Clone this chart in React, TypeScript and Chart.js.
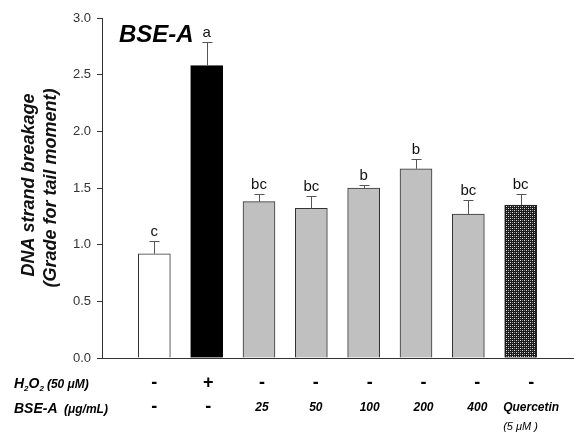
import React, { useEffect, useRef } from 'react';
import { Chart, registerables } from 'chart.js';

Chart.register(...registerables);

const FF = '"Liberation Sans", Arial, sans-serif';

const categories = ['Control', 'H2O2', 'BSE-A 25', 'BSE-A 50', 'BSE-A 100', 'BSE-A 200', 'BSE-A 400', 'Quercetin'];
const means = [0.92, 2.58, 1.38, 1.32, 1.5, 1.67, 1.27, 1.35];
const sems = [0.11, 0.21, 0.07, 0.105, 0.025, 0.09, 0.125, 0.1];
const letters = ['c', 'a', 'bc', 'bc', 'b', 'b', 'bc', 'bc'];
const h2o2Row = ['-', '+', '-', '-', '-', '-', '-', '-'];
const doseRow = ['-', '-', '25', '50', '100', '200', '400', 'Quercetin'];
const yTickValues = [0, 0.5, 1.0, 1.5, 2.0, 2.5, 3.0];

function makePattern(): CanvasPattern | string {
  const c = document.createElement('canvas');
  c.width = 4;
  c.height = 4;
  const g = c.getContext('2d');
  if (!g) return '#555';
  g.fillStyle = '#1a1a1a';
  g.fillRect(0, 0, 4, 4);
  g.fillStyle = '#e0e0e0';
  g.fillRect(0, 0, 1, 1);
  g.fillRect(2, 2, 1, 1);
  g.fillStyle = '#8a8a8a';
  g.fillRect(2, 0, 1, 1);
  g.fillRect(0, 2, 1, 1);
  const p = g.createPattern(c, 'repeat');
  return p || '#555';
}

const overlayPlugin = {
  id: 'overlay',
  afterDatasetsDraw(chart: any) {
    const ctx = chart.ctx as CanvasRenderingContext2D;
    const meta = chart.getDatasetMeta(0);
    const ys = chart.scales.y;
    ctx.save();
    means.forEach((m, i) => {
      const el = meta.data[i];
      const x = Math.round(el.x) + 0.5;
      const yb = ys.getPixelForValue(m);
      const yt = Math.round(ys.getPixelForValue(m + sems[i])) + 0.5;
      ctx.strokeStyle = '#555';
      ctx.lineWidth = 1;
      ctx.beginPath();
      ctx.moveTo(x, yb);
      ctx.lineTo(x, yt);
      ctx.moveTo(x - 5, yt);
      ctx.lineTo(x + 5, yt);
      ctx.stroke();
      ctx.fillStyle = '#111';
      ctx.font = `15px ${FF}`;
      ctx.textAlign = 'center';
      ctx.textBaseline = 'alphabetic';
      ctx.fillText(letters[i], el.x, yt - 6);

      const lx = el.x + i * 1.5;
      ctx.fillStyle = '#000';
      ctx.textBaseline = 'middle';
      ctx.font = `bold 18px ${FF}`;
      ctx.fillText(h2o2Row[i], lx, 383);
      const d = doseRow[i];
      if (d === '-') {
        ctx.font = `bold 18px ${FF}`;
        ctx.fillText(d, lx, 407);
      } else {
        ctx.font = `italic bold 12px ${FF}`;
        ctx.fillText(d, lx, 408);
        if (d === 'Quercetin') {
          const w = ctx.measureText(d).width;
          ctx.textAlign = 'left';
          ctx.font = `italic 11px ${FF}`;
          ctx.fillText('(5 \u03bcM )', lx - w / 2, 427);
        }
      }
    });

    // Row labels
    ctx.fillStyle = '#000';
    ctx.textAlign = 'left';
    ctx.textBaseline = 'alphabetic';
    let x = 14;
    const base1 = 388;
    const seg = (t: string, font: string, dy: number) => {
      ctx.font = font;
      ctx.fillText(t, x, base1 + dy);
      x += ctx.measureText(t).width;
    };
    seg('H', `italic bold 14px ${FF}`, 0);
    seg('2', `italic bold 8px ${FF}`, 3);
    seg('O', `italic bold 14px ${FF}`, 0);
    seg('2', `italic bold 8px ${FF}`, 3);
    x += 3;
    seg('(50 \u03bcM)', `italic bold 12px ${FF}`, 0);

    const base2 = 413;
    ctx.font = `italic bold 14px ${FF}`;
    ctx.fillText('BSE-A', 14, base2);
    ctx.font = `italic bold 12px ${FF}`;
    ctx.fillText('(\u03bcg/mL)', 64, base2);

    // Panel title
    ctx.font = `italic bold 24px ${FF}`;
    ctx.fillText('BSE-A', 119, 42);

    // Y axis title
    ctx.fillStyle = '#111';
    ctx.font = `italic bold 18px ${FF}`;
    ctx.textAlign = 'center';
    ctx.textBaseline = 'middle';
    ctx.save();
    ctx.translate(29, 185);
    ctx.rotate(-Math.PI / 2);
    ctx.fillText('DNA strand breakage', 0, 0);
    ctx.restore();
    ctx.save();
    ctx.translate(51, 188);
    ctx.rotate(-Math.PI / 2);
    ctx.fillText('(Grade for tail moment)', 0, 0);
    ctx.restore();

    ctx.restore();
  },
};

export default function App() {
  const ref = useRef<HTMLCanvasElement | null>(null);
  useEffect(() => {
    document.body.style.margin = '0';
    const canvas = ref.current;
    if (!canvas) return;
    const pattern = makePattern();
    const fills: any[] = ['#ffffff', '#000000', '#c0c0c0', '#c0c0c0', '#c0c0c0', '#c0c0c0', '#c0c0c0', pattern];
    const borders = ['#333', '#000', '#333', '#333', '#333', '#333', '#333', '#222'];
    const chart = new Chart(canvas, {
      type: 'bar',
      data: {
        labels: categories,
        datasets: [
          {
            label: 'DNA strand breakage',
            data: means.map((v, i) => ({ x: i + 1, y: v })) as any,
            backgroundColor: fills,
            borderColor: borders,
            borderWidth: 1,
            borderSkipped: 'bottom',
            barThickness: 32,
          },
        ],
      },
      options: {
        animation: false,
        responsive: false,
        maintainAspectRatio: false,
        devicePixelRatio: 1,
        layout: { padding: { top: 18, right: 1, left: 0, bottom: 0 } },
        plugins: { legend: { display: false }, tooltip: { enabled: false }, title: { display: false } },
        scales: {
          x: {
            type: 'linear',
            min: 0,
            max: 9,
            offset: false,
            grid: { display: false, offset: false },
            border: { display: true, color: '#333', width: 1 },
            ticks: { display: false },
            afterFit: (s: any) => {
              s.height = 83;
            },
          },
          y: {
            min: 0,
            max: 3,
            afterBuildTicks: (s: any) => {
              s.ticks = yTickValues.map((v) => ({ value: v }));
            },
            grid: { display: true, drawOnChartArea: false, drawTicks: true, tickLength: 5, color: '#333' },
            border: { display: true, color: '#333', width: 1 },
            ticks: {
              padding: 6,
              color: '#333',
              font: { family: FF, size: 13 },
              callback: (v: any) => Number(v).toFixed(1),
            },
            afterFit: (s: any) => {
              s.width = 102;
            },
          },
        },
      },
      plugins: [overlayPlugin],
    });
    return () => chart.destroy();
  }, []);
  return (
    <div style={{ position: 'absolute', left: 0, top: 0, width: 574, height: 441, background: '#fff' }}>
      <canvas ref={ref} width={574} height={441} style={{ width: 574, height: 441 }} />
    </div>
  );
}
